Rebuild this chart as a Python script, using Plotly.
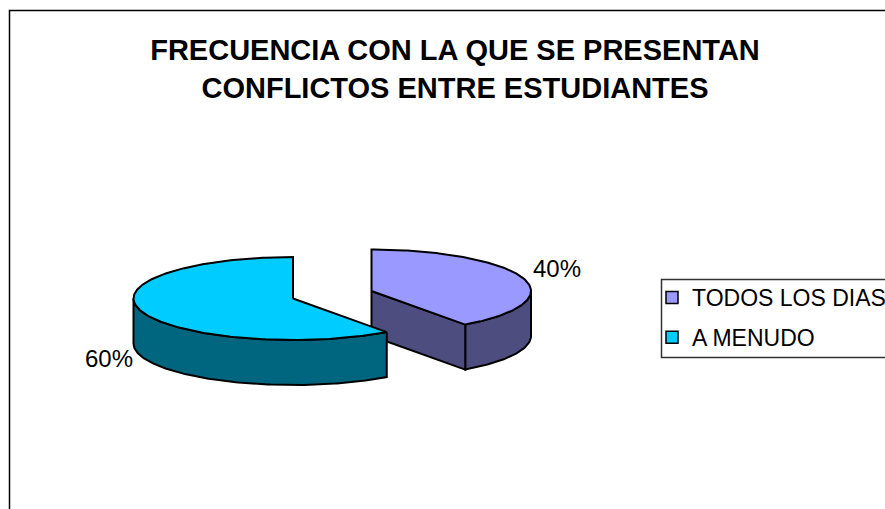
import numpy as np
import plotly.graph_objects as go

title_lines = ["FRECUENCIA CON LA QUE SE PRESENTAN", "CONFLICTOS ENTRE ESTUDIANTES"]
categories = ["TODOS LOS DIAS", "A MENUDO"]
values = [40, 60]
top_colors = ["#9999FF", "#00CCFF"]
side_colors = ["#4D4D80", "#006680"]

# pie geometry (page pixels, used as the axis scale)
centers = [(371.5, 291.0), (293.0, 298.5)]
RX, RY, DEPTH = 159.5, 41.5, 45.0
label_pos = [(557, 271), (109, 361)]
FONT = "Liberation Sans, Arial, sans-serif"
LW = 2


def rim(cx, cy, a0, a1):
    t = np.radians(np.linspace(a0, a1, max(int(abs(a1 - a0)), 2) + 1))
    return cx + RX * np.sin(t), cy - RY * np.cos(t)


total = sum(values)
spans = []
start = 0.0
for v in values:
    spans.append((start, start + 360.0 * v / total))
    start += 360.0 * v / total

fig = go.Figure()


def poly(xs, ys, color):
    fig.add_trace(go.Scatter(
        x=list(xs), y=list(ys), mode="lines", fill="toself", fillcolor=color,
        line=dict(color="black", width=LW), showlegend=False, hoverinfo="skip"))


for i in range(len(values)):
    (cx, cy), (a0, a1) = centers[i], spans[i]
    # outer wall: the part of the rim on the front half of the ellipse
    w0, w1 = max(a0, 90.0), min(a1, 270.0)
    xs, ys = rim(cx, cy, w0, w1)
    poly(np.r_[xs, xs[::-1], xs[0]], np.r_[ys, ys[::-1] + DEPTH, ys[0]], side_colors[i])
    # cut face at the end of the first slice looks towards the viewer
    if 90.0 < a1 < 270.0 and a0 < 90.0:
        ex, ey = rim(cx, cy, a1, a1 + 1)
        poly([cx, ex[0], ex[0], cx, cx], [cy, ey[0], ey[0] + DEPTH, cy + DEPTH, cy], side_colors[i])
    # top face
    xs, ys = rim(cx, cy, a0, a1)
    poly(np.r_[cx, xs, cx], np.r_[cy, ys, cy], top_colors[i])

# value labels
fig.add_trace(go.Scatter(
    x=[p[0] for p in label_pos], y=[p[1] for p in label_pos],
    mode="text", text=[f"{v}%" for v in values], textposition="middle center",
    textfont=dict(family=FONT, size=24, color="black"),
    showlegend=False, hoverinfo="skip"))

# legend entries
for i, name in enumerate(categories):
    fig.add_trace(go.Scatter(
        x=[None], y=[None], mode="markers", name=name, legendgroup=name,
        marker=dict(symbol="square", size=12, color=top_colors[i],
                    line=dict(color="black", width=1.5))))

fig.update_layout(
    width=885, height=509,
    margin=dict(l=0, r=0, t=0, b=0, autoexpand=False),
    paper_bgcolor="white", plot_bgcolor="white",
    title=dict(text="<br>".join(title_lines), x=455 / 885, xanchor="center",
               y=1 - 60 / 509, yanchor="middle",
               font=dict(family=FONT, size=29, color="black", weight="bold")),
    xaxis=dict(range=[0, 885], visible=False, domain=[0, 1]),
    yaxis=dict(range=[509, 0], visible=False, domain=[0, 1]),
    showlegend=True,
    legend=dict(x=652 / 885, y=1 - 276 / 509, xanchor="left", yanchor="top",
                font=dict(family=FONT, size=23, color="black"),
                bgcolor="rgba(0,0,0,0)", tracegroupgap=7, itemclick=False,
                itemdoubleclick=False),
    shapes=[
        dict(type="rect", xref="x", yref="y", x0=9.5, y0=10.5, x1=900, y1=520,
             line=dict(color="black", width=1.5), layer="below"),
        dict(type="rect", xref="x", yref="y", x0=661.5, y0=279.5, x1=900, y1=357.5,
             line=dict(color="#333333", width=1.5), layer="below"),
    ],
)

fig.write_html("out.html", config={"displayModeBar": False},
               post_script="document.body.style.margin='0';document.body.style.overflow='hidden';")
